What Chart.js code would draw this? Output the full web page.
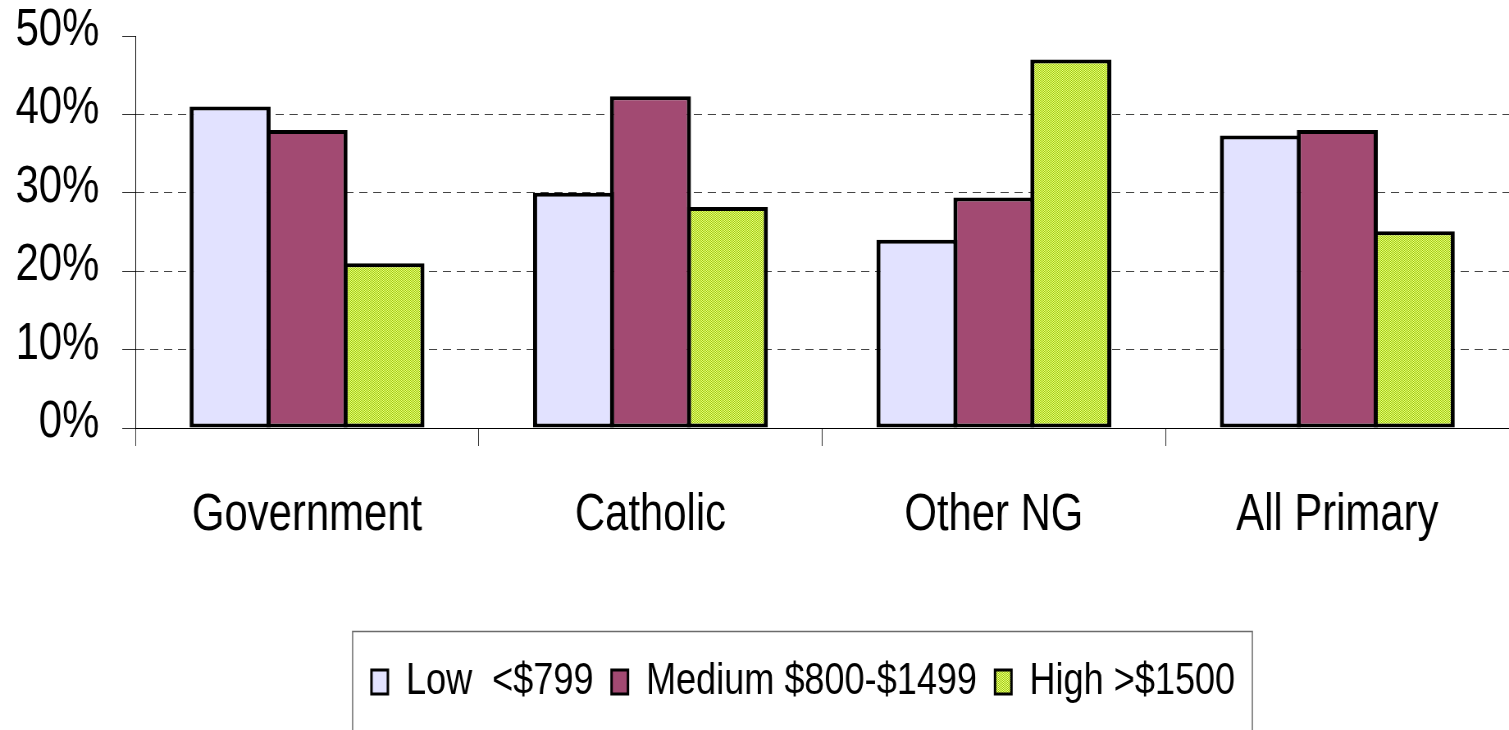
<!DOCTYPE html>
<html>
<head>
<meta charset="utf-8">
<script src="https://cdn.jsdelivr.net/npm/chart.js@4/dist/chart.umd.min.js"></script>
<style>
  html, body { margin: 0; padding: 0; background: #fff; overflow: hidden; width: 1509px; height: 730px; }
  /* The chart is laid out on a wider canvas and narrowed horizontally,
     which gives the condensed lettering of the original slide. */
  #frame { width: 1840px; height: 730px; transform: scaleX(0.82011); transform-origin: 0 0; }
  canvas { display: block; }
</style>
</head>
<body>
<div id="frame"><canvas id="chart" width="1840" height="730"></canvas></div>
<script>
// School categories along the x axis
const categories = ['Government', 'Catholic', 'Other NG', 'All Primary'];
// Income bands shown in the legend
const seriesNames = ['Low  <$799', 'Medium $800-$1499', 'High >$1500'];
// Share of students in each band (%)
const lowValues = [41.0, 30.0, 24.0, 37.3];
const mediumValues = [38.0, 42.3, 29.4, 38.0];
const highValues = [21.0, 28.2, 47.0, 25.1];
// Value axis
const yMin = 0;
const yMax = 50;
const yStep = 10;

const FONT = "'Liberation Sans', Arial, sans-serif";
const LEGEND_SHIFT = -23;

const canvas = document.getElementById('chart');
const ctx = canvas.getContext('2d');

// Fine green/yellow checker used for the "High" bars
function checkerPattern() {
  const p = document.createElement('canvas');
  p.width = 2; p.height = 2;
  const pc = p.getContext('2d');
  pc.fillStyle = '#f0fc8c';
  pc.fillRect(0, 0, 2, 2);
  pc.fillStyle = '#99cc00';
  pc.fillRect(0, 0, 1, 1);
  pc.fillRect(1, 1, 1, 1);
  return ctx.createPattern(p, 'repeat');
}

const fills = ['#e2e2ff', '#a24a72', checkerPattern()];
const seriesValues = [lowValues, mediumValues, highValues];

// Nudges the legend row sideways and draws a thin frame around it
const legendFrame = {
  id: 'legendFrame',
  afterLayout(chart) {
    const lg = chart.legend;
    if (!lg) return;
    lg.left += LEGEND_SHIFT;
    lg.right += LEGEND_SHIFT;
  },
  afterDraw(chart) {
    const lg = chart.legend;
    const boxes = lg && lg.legendHitBoxes;
    if (!boxes || !boxes.length) return;
    const first = boxes[0];
    const last = boxes[boxes.length - 1];
    const midY = first.top + first.height / 2;
    const c = chart.ctx;
    c.save();
    c.strokeStyle = '#6b6b6b';
    c.lineWidth = 1.5;
    c.strokeRect(first.left - 23, midY - 50.5, (last.left + last.width) - first.left + 44, 200);
    c.restore();
  }
};

new Chart(ctx, {
  type: 'bar',
  data: {
    labels: categories,
    datasets: seriesNames.map((name, i) => ({
      label: name,
      data: seriesValues[i],
      backgroundColor: fills[i],
      borderColor: '#000',
      borderWidth: { top: 4, bottom: 4, left: 5, right: 5 },
      borderSkipped: false,
      categoryPercentage: 0.672,
      barPercentage: 1.053
    }))
  },
  options: {
    responsive: false,
    animation: false,
    devicePixelRatio: 1,
    layout: { padding: { top: 36, right: 0, left: 0, bottom: 16 } },
    plugins: {
      tooltip: { enabled: false },
      legend: {
        position: 'bottom',
        fullSize: false,
        labels: {
          color: '#000',
          font: { family: FONT, size: 44 },
          boxWidth: 20,
          boxHeight: 24,
          padding: 22,
          generateLabels(chart) {
            const items = Chart.defaults.plugins.legend.labels.generateLabels(chart);
            items.forEach(it => { it.lineWidth = 3; it.strokeStyle = '#000'; });
            return items;
          }
        }
      }
    },
    scales: {
      x: {
        afterFit(scale) { scale.height = 210; },
        grid: {
          offset: true,
          drawOnChartArea: false,
          tickLength: 18,
          tickColor: '#333',
          tickWidth: 1
        },
        border: { color: '#000', width: 1 },
        ticks: {
          color: '#000',
          padding: 39,
          maxRotation: 0,
          font: { family: FONT, size: 51 }
        }
      },
      y: {
        min: yMin,
        max: yMax,
        afterFit(scale) {
          scale.width = 165;
          // the top label may sit in the page margin
          scale.paddingTop = 0;
          scale.paddingBottom = 0;
        },
        ticks: {
          stepSize: yStep,
          color: '#000',
          padding: 28,
          labelOffset: -5,
          font: { family: FONT, size: 51 },
          callback: v => v + '%'
        },
        grid: {
          color: c => (c.tick && c.tick.value > yMin && c.tick.value < yMax) ? '#444' : 'rgba(0,0,0,0)',
          tickColor: '#333',
          tickLength: 16,
          lineWidth: 1
        },
        border: { color: '#000', width: 1, dash: [10, 7] }
      }
    }
  },
  plugins: [legendFrame]
});
</script>
</body>
</html>
